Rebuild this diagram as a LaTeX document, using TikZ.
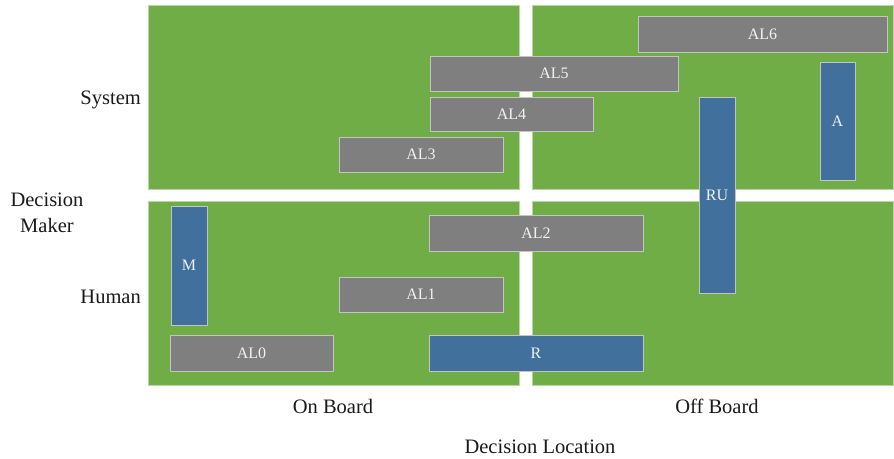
\documentclass[tikz,border=0pt]{standalone}
\usepackage{fontspec}
\setmainfont{Liberation Serif}
\definecolor{qgreen}{HTML}{70AD47}
\definecolor{qedge}{HTML}{B9D7A6}
\definecolor{bgray}{HTML}{7F7F7F}
\definecolor{bblue}{HTML}{41709C}
\definecolor{bedge}{HTML}{C4C4C4}
\definecolor{btext}{HTML}{F2F2F2}
\definecolor{ltext}{HTML}{1A1A1A}
\tikzset{
  quad/.style={fill=qgreen, draw=qedge, line width=0.8pt},
  gbox/.style={rectangle, fill=bgray, draw=bedge, line width=0.8pt, inner sep=0pt, outer sep=0pt,
    text=btext, font=\fontsize{16}{19}\selectfont},
  bbox/.style={gbox, fill=bblue},
  axlabel/.style={anchor=base, text=ltext, inner sep=0pt, font=\fontsize{20.5}{24}\selectfont}
}
\newcommand{\boxat}[7]{% style, name, x1, y1, x2, y2, text
  \node[#1, minimum width={(#5-#3)*1pt}, minimum height={(#6-#4)*1pt}]
    (#2) at ({(#3+#5)/2},{(#4+#6)/2}) {#7};}
\begin{document}
\begin{tikzpicture}[x=1pt, y=-1pt]
\useasboundingbox (0,0) rectangle (894,458);
\fill[white] (0,0) rectangle (894,458);
% quadrants
\path[quad] (148,5) rectangle (519,189);
\path[quad] (532,5) rectangle (893,189);
\path[quad] (148,201) rectangle (519,385);
\path[quad] (532,201) rectangle (893,385);
% boxes
\boxat{gbox}{al6}{638}{16}{887}{52}{AL6}
\boxat{gbox}{al5}{430}{56}{678}{91}{AL5}
\boxat{gbox}{al4}{430}{97}{593}{131}{AL4}
\boxat{gbox}{al3}{339}{137}{503}{172}{AL3}
\boxat{bbox}{a}{820}{62}{855}{180}{A}
\boxat{bbox}{ru}{699}{97}{735}{293}{RU}
\boxat{bbox}{m}{171}{206}{207}{325}{M}
\boxat{gbox}{al2}{429}{215}{643}{251}{AL2}
\boxat{gbox}{al1}{339}{277}{503}{312}{AL1}
\boxat{gbox}{al0}{170}{335}{333}{371}{AL0}
\boxat{bbox}{r}{429}{335}{643}{371}{R}
% axis labels
\node[axlabel, anchor=base east] (sys) at (141,104) {System};
\node[axlabel, anchor=base east] (hum) at (141,303) {Human};
\node[axlabel] (dec) at (47,206) {Decision};
\node[axlabel] (mak) at (47,232) {Maker};
\node[axlabel] (onb) at (333,413) {On Board};
\node[axlabel] (offb) at (717,413) {Off Board};
\node[axlabel] (decloc) at (540,453) {Decision Location};
\end{tikzpicture}
\end{document}
